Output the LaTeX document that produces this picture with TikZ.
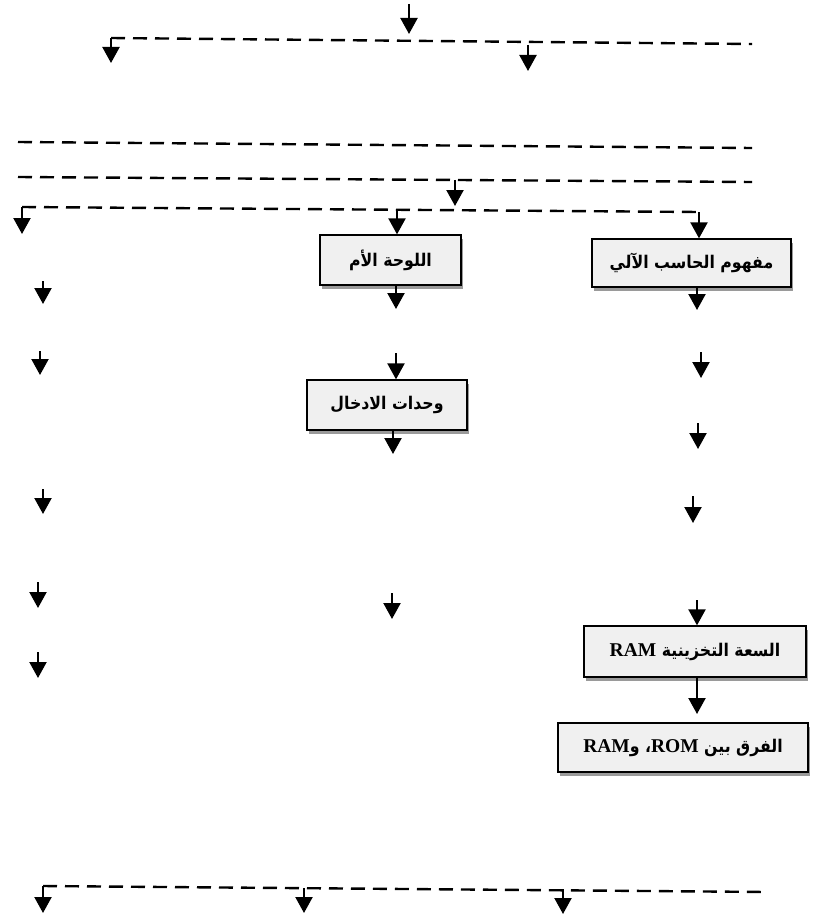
\documentclass[tikz,border=0pt]{standalone}
\usepackage{fontspec}
\setmainfont{Liberation Serif}
\newfontfamily\arabicfont[Script=Arabic, FakeStretch=0.9]{DejaVu Sans}
\TeXXeTstate=1
\usetikzlibrary{arrows.meta,shadows}
\definecolor{boxfill}{HTML}{F0F0F0}
\definecolor{shadowgray}{HTML}{9A9A9A}
\tikzset{
  dline/.style={line width=2.4pt, dash pattern=on 14pt off 8pt},
  arr/.style={line width=2.2pt, -{Triangle[width=17pt,length=16pt]}},
  topic/.style={draw=black, line width=1.3pt, fill=boxfill, inner sep=0pt,
    drop shadow={shadow xshift=2pt, shadow yshift=-4pt, fill=shadowgray, opacity=1}},
  ar/.style={font=\arabicfont\bfseries\fontsize{17.5pt}{19pt}\selectfont}
}
\newcommand{\lat}[1]{{\rmfamily\bfseries\fontsize{19.5pt}{21pt}\selectfont #1}}
\begin{document}
\begin{tikzpicture}[x=1pt,y=-1pt]
\useasboundingbox[fill=white] (0,0) rectangle (813,920);

% boxes
\node[topic, ar, minimum width=199pt, minimum height=48pt] (B1) at (691.5,263) {\beginR مفهوم الحاسب الآلي\endR};
\node[topic, ar, minimum width=141pt, minimum height=50pt] (B2) at (390.5,260) {\beginR اللوحة الأم\endR};
\node[topic, ar, minimum width=160pt, minimum height=50pt] (B3) at (387,405) {\beginR وحدات الادخال\endR};
\node[topic, ar, minimum width=222pt, minimum height=51pt] (B4) at (695,651.5) {\beginR السعة التخزينية \beginL\lat{RAM}\endL\endR};
\node[topic, ar, minimum width=250pt, minimum height=49pt] (B5) at (683,747.5) {\beginR الفرق بين \beginL\lat{ROM}\endL، و\beginL\lat{RAM}\endL\endR};

% top branch
\coordinate (t0) at (409,4);
\coordinate (t1) at (409,34);
\draw[arr] (t0) -- (t1);
\coordinate (l1a) at (111,38);
\coordinate (l1b) at (752,44);
\draw[dline] (l1a) -- (l1b);
\coordinate (l1d) at (111,63);
\draw[arr] (l1a) -- (l1d);
\coordinate (r1a) at (528,45);
\coordinate (r1b) at (528,71);
\draw[arr] (r1a) -- (r1b);

% two plain dashed lines
\coordinate (l2a) at (18,142);
\coordinate (l2b) at (752,148);
\draw[dline] (l2a) -- (l2b);
\coordinate (l3a) at (18,177);
\coordinate (l3b) at (752,182);
\draw[dline] (l3a) -- (l3b);
\coordinate (m3a) at (455,180);
\coordinate (m3b) at (455,206);
\draw[arr] (m3a) -- (m3b);

% distribution line
\coordinate (l4a) at (22,207);
\coordinate (l4m) at (397,210);
\coordinate (l4b) at (699,212);
\draw[dline] (l4a) -- (l4b);
\coordinate (l4d) at (22,234);
\draw[arr] (l4a) -- (l4d);
\draw[arr] (l4m) -- (l4m |- B2.north);
\draw[arr] (l4b) -- (l4b |- B1.north);

% left column
\foreach \x/\ya/\yb [count=\i] in {43/281/304, 40/351/375, 43/489/514, 38/582/608, 38/652/678}{
  \coordinate (L\i a) at (\x,\ya);
  \coordinate (L\i b) at (\x,\yb);
  \draw[arr] (L\i a) -- (L\i b);
}

% middle column
\coordinate (M1) at (396,309);
\draw[arr] (B2.south -| M1) -- (M1);
\coordinate (M2) at (396,353);
\draw[arr] (M2) -- (M2 |- B3.north);
\coordinate (M3) at (393,454);
\draw[arr] (B3.south -| M3) -- (M3);
\coordinate (M4a) at (392,593);
\coordinate (M4b) at (392,619);
\draw[arr] (M4a) -- (M4b);

% right column
\coordinate (R1) at (697,310);
\draw[arr] (B1.south -| R1) -- (R1);
\foreach \x/\ya/\yb [count=\i] in {701/352/378, 698/423/449, 693/496/523}{
  \coordinate (R\i a) at (\x,\ya);
  \coordinate (R\i b) at (\x,\yb);
  \draw[arr] (R\i a) -- (R\i b);
}
\coordinate (R5) at (697,600);
\draw[arr] (R5) -- (R5 |- B4.north);
\coordinate (R6) at (697,714);
\draw[arr] (B4.south -| R6) -- (R6);

% bottom line
\coordinate (l5a) at (43,886);
\coordinate (l5m) at (304,888);
\coordinate (l5n) at (563,889);
\coordinate (l5b) at (767,892);
\draw[dline] (l5a) -- (l5b);
\coordinate (b1) at (43,913);
\coordinate (b2) at (304,913);
\coordinate (b3) at (563,914);
\draw[arr] (l5a) -- (b1);
\draw[arr] (l5m) -- (b2);
\draw[arr] (l5n) -- (b3);
\end{tikzpicture}
\end{document}
